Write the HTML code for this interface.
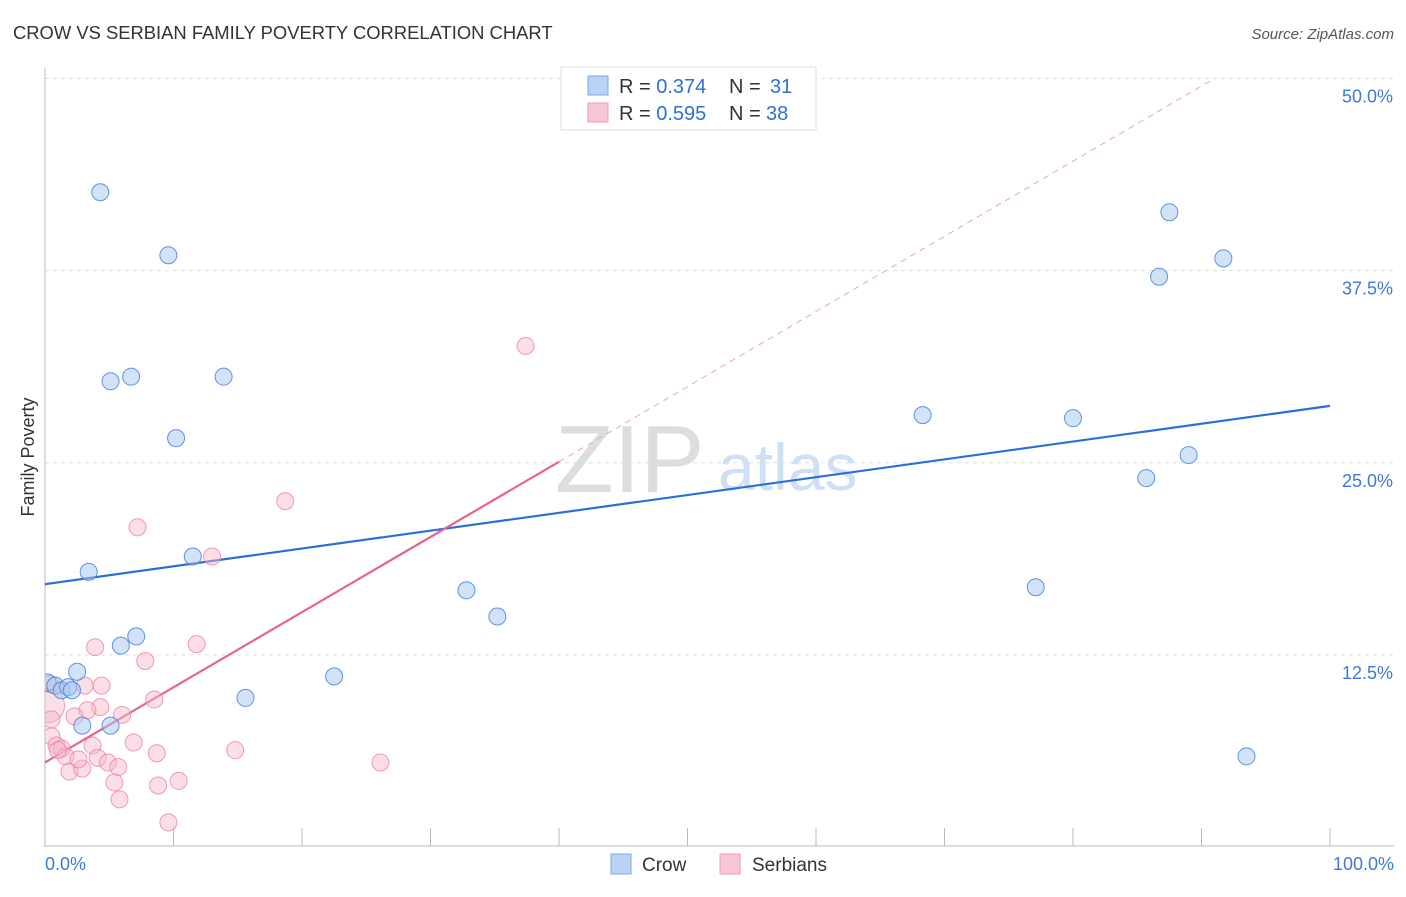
<!DOCTYPE html>
<html><head><meta charset="utf-8"><style>
body{margin:0;background:#fff;font-family:"Liberation Sans",sans-serif;}
svg text{font-family:"Liberation Sans",sans-serif;}
</style></head><body>
<svg id="chart" width="1406" height="892" xmlns="http://www.w3.org/2000/svg">
<defs><clipPath id="plotclip"><rect x="45" y="60" width="1360" height="787"/></clipPath></defs>
<text x="13" y="39" font-size="18.4" fill="#333">CROW VS SERBIAN FAMILY POVERTY CORRELATION CHART</text>
<text x="1394" y="39" font-size="15" fill="#555" font-style="italic" text-anchor="end">Source: ZipAtlas.com</text>
<text x="34" y="457" font-size="18" fill="#333" text-anchor="middle" transform="rotate(-90 34 457)">Family Poverty</text>
<g><text x="555" y="492" font-size="96" fill="#ddd" font-family="Liberation Serif,serif">ZIP</text><text x="718" y="490" font-size="66" fill="#cfe0f5">atlas</text></g>
<g id="grid"></g>
<g id="axes"></g>
<g id="lines"></g>
<g id="pts" clip-path="url(#plotclip)"></g>
<g>
<rect x="561" y="67" width="255" height="63" fill="#fff" stroke="#ddd"/>
<rect x="588" y="76" width="20" height="19" fill="#b9d3f5" stroke="#7aa7e6"/>
<rect x="588" y="103" width="20" height="19" fill="#f9c6d5" stroke="#ef9ab5"/>
<text x="619" y="93" font-size="20" fill="#333">R = <tspan fill="#2f6fd6">0.374</tspan><tspan x="729">N = </tspan><tspan x="770" fill="#2f6fd6">31</tspan></text>
<text x="619" y="120" font-size="20" fill="#333">R = <tspan fill="#2f6fd6">0.595</tspan><tspan x="729">N = </tspan><tspan x="766" fill="#2f6fd6">38</tspan></text>
</g>
<g>
<rect x="611" y="854" width="20" height="20" fill="#b9d3f5" stroke="#7aa7e6"/>
<text x="642" y="871" font-size="19" fill="#333">Crow</text>
<rect x="720" y="854" width="20" height="20" fill="#f9c6d5" stroke="#ef9ab5"/>
<text x="752" y="871" font-size="19" fill="#333">Serbians</text>
</g>
</svg>
<script>
const crowX=[4.3,9.6,5.1,6.7,13.9,10.2,3.4,11.5,7.1,5.9,2.5,0.2,0.8,1.3,1.8,2.1,2.9,5.1,15.6,22.5,32.8,35.2,68.3,80.0,85.7,89.0,77.1,87.5,86.7,91.7,93.5];
const crowY=[42.6,38.5,30.3,30.6,30.6,26.6,17.9,18.9,13.7,13.1,11.4,10.7,10.5,10.2,10.4,10.2,7.9,7.9,9.7,11.1,16.7,15.0,28.1,27.9,24.0,25.5,16.9,41.3,37.1,38.3,5.9];
const serbX=[37.4,18.7,7.2,13.0,11.8,3.9,7.8,3.1,4.4,8.5,0.2,6.0,4.3,3.3,2.3,0.5,0.5,0.9,1.3,1.6,1.9,2.9,3.7,4.1,4.9,5.7,6.9,8.7,14.8,5.4,8.8,10.4,5.8,9.6,26.1,2.6,0.4,1.0];
const serbY=[32.6,22.5,20.8,18.9,13.2,13.0,12.1,10.5,10.5,9.6,9.2,8.6,9.1,8.9,8.5,8.3,7.2,6.6,6.4,5.9,4.9,5.1,6.6,5.8,5.5,5.2,6.8,6.1,6.3,4.2,4.0,4.3,3.1,1.6,5.5,5.7,10.6,6.3];
const yTicks=[12.5,25.0,37.5,50.0];
const crowTrend=[17.1,28.7];
const serbTrend=[5.5,0.489];
const NS='http://www.w3.org/2000/svg';
const X=v=>45+v*12.85, Y=v=>847-v*15.37;
function mk(p,t,a){const e=document.createElementNS(NS,t);for(const k in a)e.setAttribute(k,a[k]);p.appendChild(e);return e;}
const grid=document.getElementById('grid'),axes=document.getElementById('axes'),lines=document.getElementById('lines'),pts=document.getElementById('pts');
yTicks.forEach(t=>{
 const l=mk(grid,'line',{x1:45,x2:1394,y1:Y(t),y2:Y(t),stroke:'#ddd','stroke-dasharray':'4,4'});
 
 
 const tx=mk(axes,'text',{x:1393,y:Y(t)+24,'font-size':18,fill:'#3d7ad8','text-anchor':'end'});
 tx.textContent=t.toFixed(1)+'%';
 
 
});
mk(axes,'line',{x1:45,x2:45,y1:68,y2:847,stroke:'#bbb'});
mk(axes,'line',{x1:45,x2:1394,y1:846,y2:846,stroke:'#bbb'});
for(let i=0;i<=10;i++){const t=mk(axes,'line',{x1:X(i*10),x2:X(i*10),y1:828,y2:846,stroke:'#bbb'});
 
 }
const x0=mk(axes,'text',{x:45,y:870,'font-size':18,fill:'#3d7ad8'});x0.textContent='0.0%';


const x1=mk(axes,'text',{x:1394,y:870,'font-size':18,fill:'#3d7ad8','text-anchor':'end'});x1.textContent='100.0%';


const bl=mk(lines,'line',{x1:X(0),y1:Y(crowTrend[0]),x2:X(100),y2:Y(crowTrend[1]),stroke:'#2a6fd6','stroke-width':2.2});


const sy=x=>serbTrend[0]+serbTrend[1]*x;
const pl=mk(lines,'line',{x1:X(0),y1:Y(sy(0)),x2:X(40),y2:Y(sy(40)),stroke:'#e8638f','stroke-width':2.2});


const xe=(50-serbTrend[0])/serbTrend[1];
const pd=mk(lines,'line',{x1:X(40),y1:Y(sy(40)),x2:X(xe),y2:Y(50),stroke:'#eba5bb','stroke-width':1,'stroke-dasharray':'6,5'});


serbX.forEach((v,i)=>{const c=mk(pts,'circle',{cx:X(v),cy:Y(serbY[i]),r:i==10?17:8.5,fill:'rgba(248,182,202,0.45)',stroke:'rgba(236,130,165,0.8)','stroke-width':1});
 
 });
crowX.forEach((v,i)=>{const c=mk(pts,'circle',{cx:X(v),cy:Y(crowY[i]),r:8.5,fill:'rgba(165,198,240,0.5)',stroke:'rgba(70,130,220,0.85)','stroke-width':1});
 
 });
</script>
</body></html>
